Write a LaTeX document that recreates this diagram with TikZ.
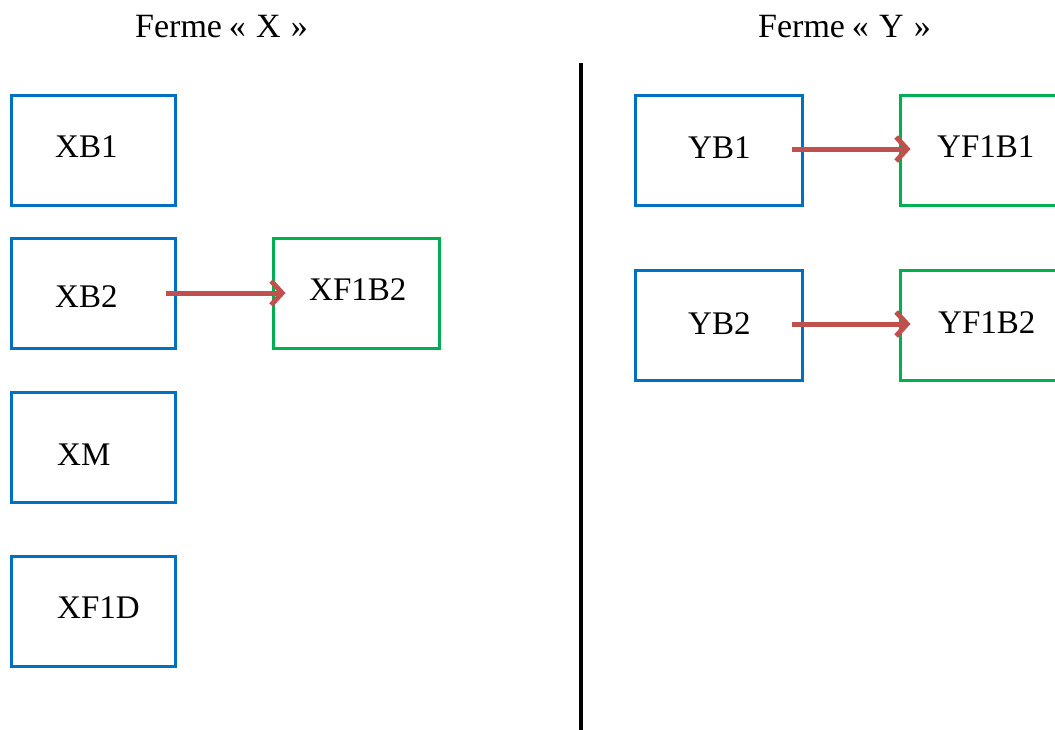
\documentclass[tikz,border=0pt]{standalone}
\usepackage{fontspec}
\setmainfont{Liberation Serif}
\usetikzlibrary{arrows.meta}
\definecolor{boxblue}{HTML}{0070C0}
\definecolor{boxgreen}{HTML}{00B050}
\definecolor{arrred}{HTML}{C0504D}
\tikzset{
  bbox/.style={draw=boxblue, line width=3pt, rectangle, minimum width=164pt, minimum height=110pt, inner sep=0pt},
  gbox/.style={draw=boxgreen, line width=3pt, rectangle, minimum width=166pt, minimum height=110pt, inner sep=0pt},
  lbl/.style={anchor=base west, inner sep=0pt, font=\fontsize{33}{36}\selectfont},
  ttl/.style={anchor=base west, inner sep=0pt, font=\fontsize{34}{38}\selectfont},
  conn/.style={draw=arrred, line width=5pt, -{Straight Barb[length=11pt,width=24pt]}},
}
\begin{document}
\begin{tikzpicture}[x=1pt,y=-1pt]
\useasboundingbox (0,0) rectangle (1055,729);
\clip (0,0) rectangle (1055,729);
% titles
\node[ttl] (tX) at (135,37) {Ferme\hspace{0.2em}«\hspace{0.3em}X\hspace{0.3em}»};
\node[ttl] (tY) at (758,37) {Ferme\hspace{0.2em}«\hspace{0.3em}Y\hspace{0.3em}»};
% separator
\coordinate (sepT) at (581,63);
\coordinate (sepB) at (581,735);
\draw[line width=4pt] (sepT) -- (sepB);
% boxes
\node[bbox] (XB1) at (93.5,150) {};
\node[bbox] (XB2) at (93.5,293) {};
\node[gbox] (XF1B2) at (356,293) {};
\node[bbox] (XM) at (93.5,447) {};
\node[bbox] (XF1D) at (93.5,611) {};
\node[bbox, minimum width=167pt] (YB1) at (718.5,150) {};
\node[gbox] (YF1B1) at (983,150) {};
\node[bbox, minimum width=167pt] (YB2) at (718.5,325) {};
\node[gbox] (YF1B2) at (983,325) {};
% labels
\node[lbl] (lXB1) at (55,157) {XB1};
\node[lbl] (lXB2) at (55,307) {XB2};
\node[lbl] (lXF1B2) at (309,300) {XF1B2};
\node[lbl] (lXM) at (57,465) {XM};
\node[lbl] (lXF1D) at (57,618) {XF1D};
\node[lbl] (lYB1) at (688,158) {YB1};
\node[lbl] (lYF1B1) at (937,157) {YF1B1};
\node[lbl] (lYB2) at (688,334) {YB2};
\node[lbl] (lYF1B2) at (938,333) {YF1B2};
% arrows
\draw[conn, shorten <=-11pt, shorten >=-14pt] (XB2.east) -- (XF1B2.west);
\draw[conn, shorten <=-12pt, shorten >=-12pt] ([yshift=1pt]YB1.east) -- ([yshift=1pt]YF1B1.west);
\draw[conn, shorten <=-12pt, shorten >=-12pt] ([yshift=1pt]YB2.east) -- ([yshift=1pt]YF1B2.west);
\end{tikzpicture}
\end{document}
